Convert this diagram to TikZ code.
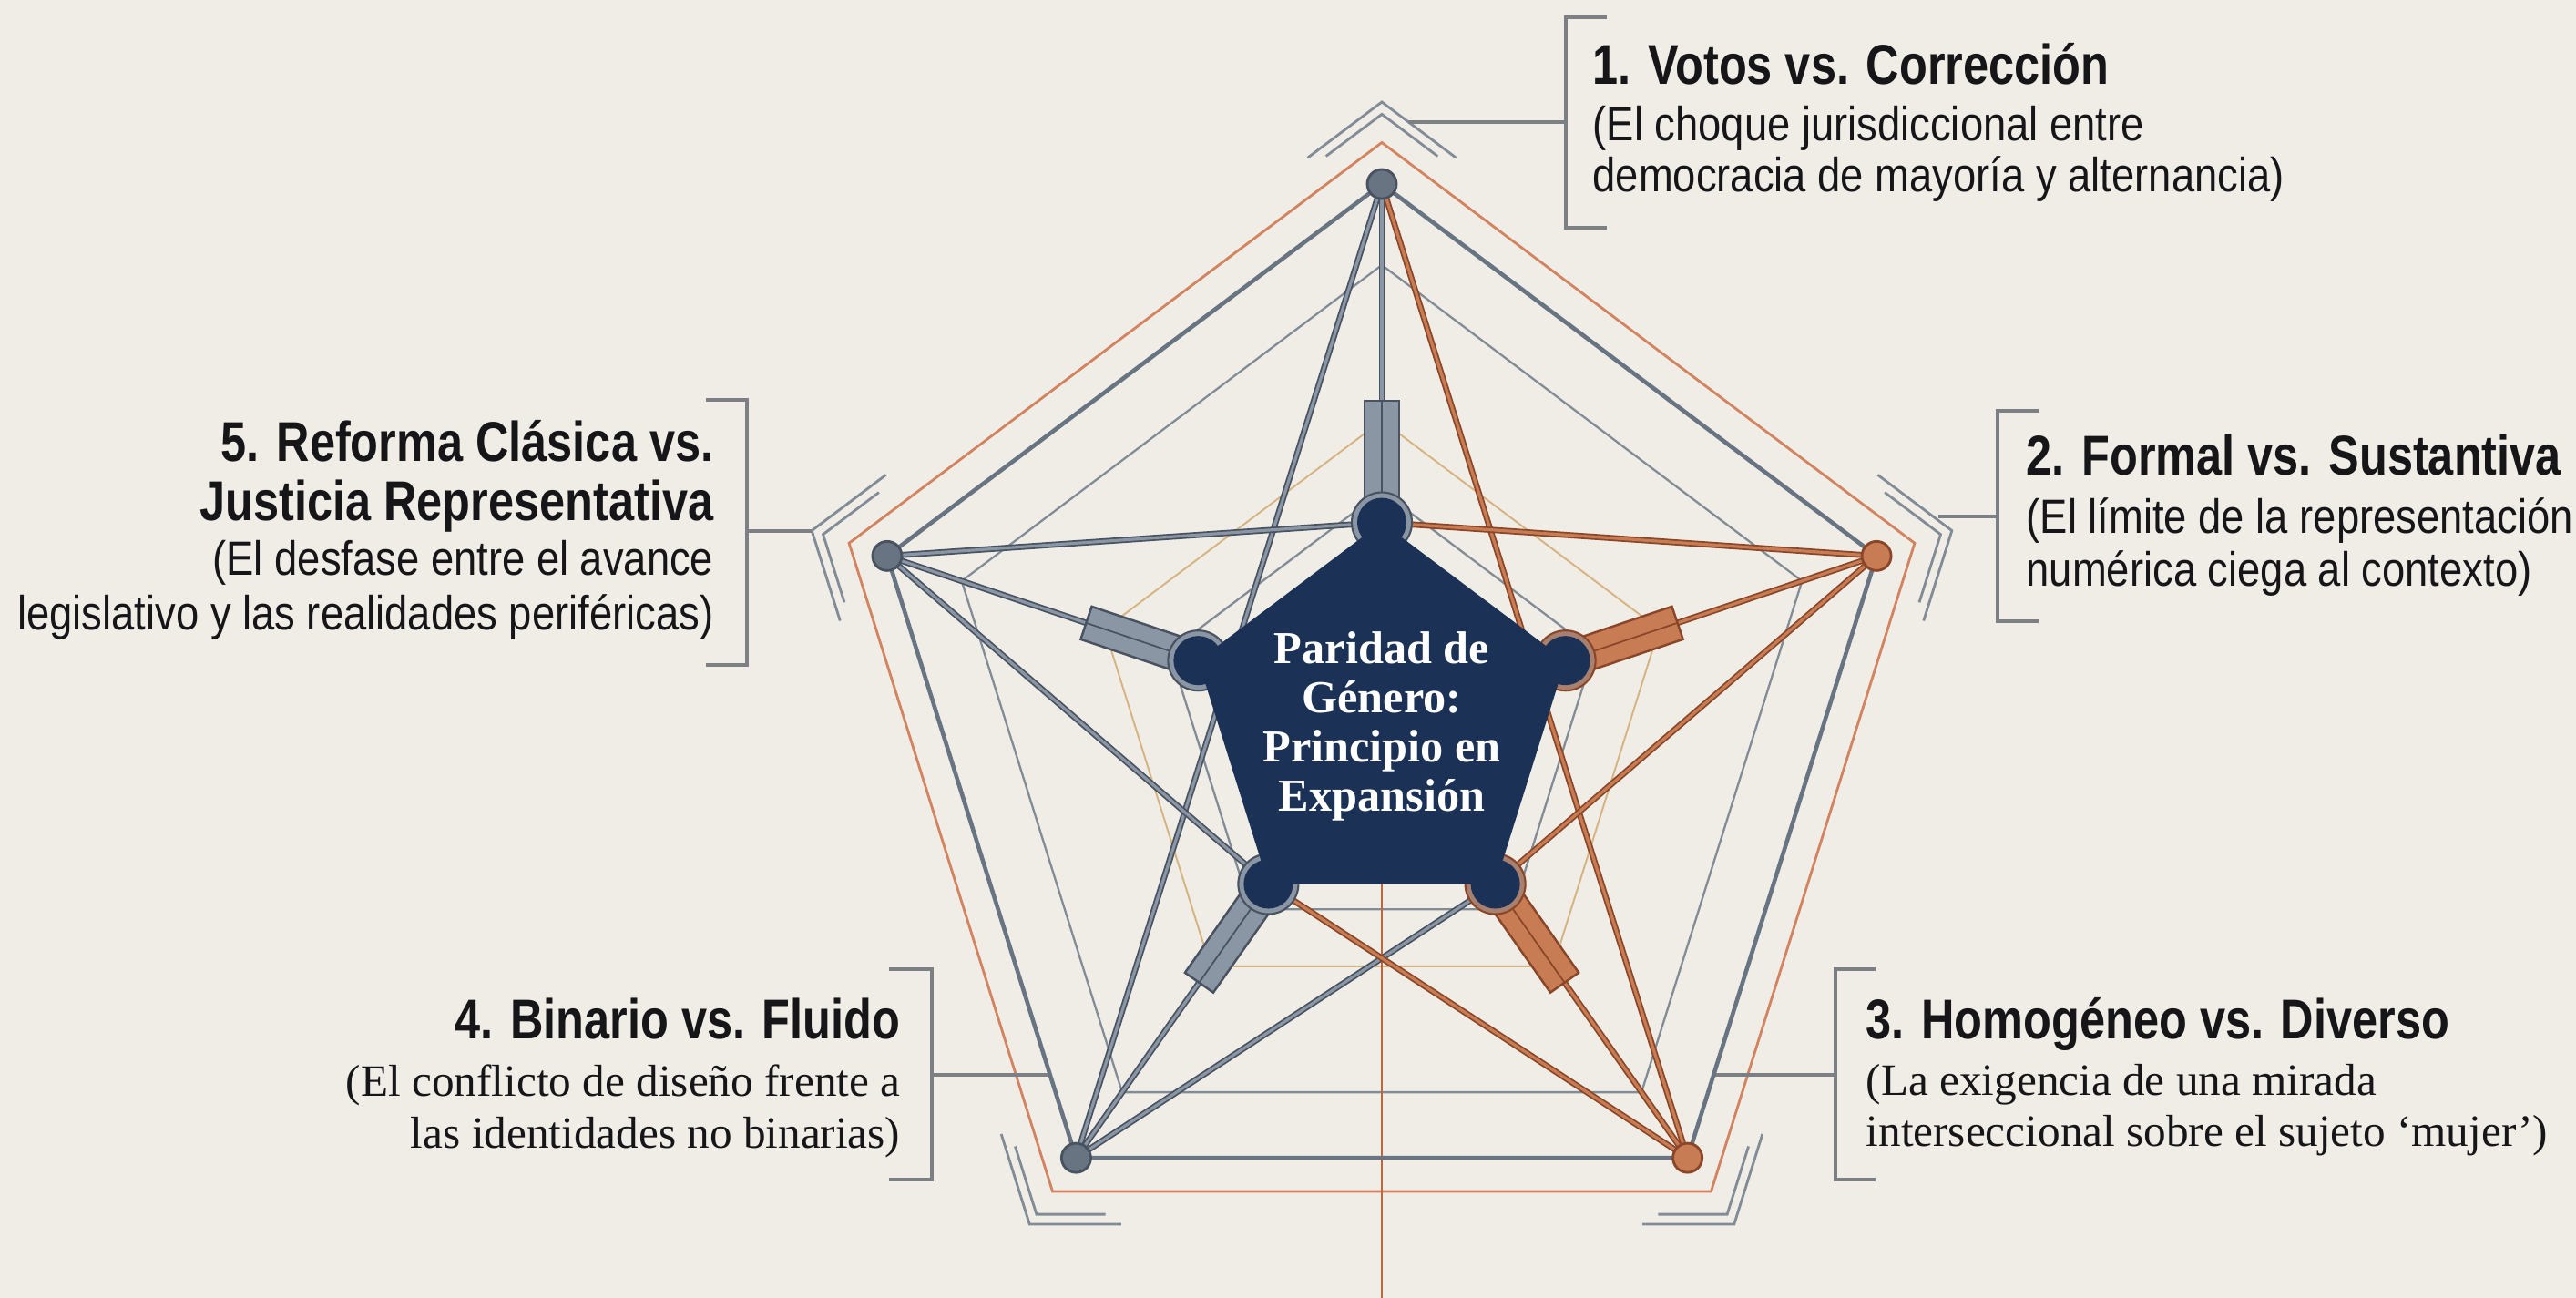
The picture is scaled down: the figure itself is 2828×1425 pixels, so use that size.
\documentclass[tikz,border=0pt]{standalone}
\usepackage{fontspec}
\setmainfont{Liberation Serif}
\newfontfamily\headfont[FakeStretch=0.82]{Liberation Sans}
\newfontfamily\notefont[FakeStretch=0.86]{Liberation Sans}
\usetikzlibrary{calc}

\definecolor{paper}{RGB}{240,237,231}
\definecolor{ink}{RGB}{22,22,24}
\definecolor{navy}{RGB}{27,50,86}
\definecolor{steel}{RGB}{104,116,130}
\definecolor{steeldark}{RGB}{72,82,96}
\definecolor{steellight}{RGB}{138,150,164}
\definecolor{copper}{RGB}{186,104,64}
\definecolor{copperdark}{RGB}{138,70,40}
\definecolor{copperlight}{RGB}{200,124,84}
\definecolor{collarcopper}{RGB}{168,128,112}
\definecolor{rimorange}{RGB}{210,132,96}
\definecolor{tanline}{RGB}{214,180,130}
\definecolor{fine}{RGB}{130,140,150}
\definecolor{linegrey}{RGB}{124,128,133}

\tikzset{
  labhead/.style={inner sep=0pt, text=ink, font=\headfont\bfseries\fontsize{17.5}{19}\selectfont},
  labnote/.style={inner sep=0pt, text=ink, font=\notefont\fontsize{15}{17}\selectfont},
  labserif/.style={inner sep=0pt, text=ink, font=\fontsize{14}{16}\selectfont},
  coretext/.style={inner sep=0pt, text=white, font=\bfseries\fontsize{14.3}{16}\selectfont},
  ringorange/.style={draw=rimorange, line width=0.8pt},
  ringgrey/.style={draw=fine, line width=0.65pt},
  ringtan/.style={draw=tanline, line width=0.55pt},
  chev/.style={draw=fine, line width=0.8pt},
  brack/.style={draw=linegrey, line width=1pt},
  rim/.style={draw=steel, line width=1.3pt, line join=round},
  greyrod/.style={draw=steeldark, double=steellight, double distance=0.9pt, line width=0.5pt},
  copperrod/.style={draw=copperdark, double=copperlight, double distance=0.9pt, line width=0.5pt},
  sleevegrey/.style={fill=steellight, draw=steeldark, line width=0.7pt},
  sleevecopper/.style={fill=copperlight, draw=copperdark, line width=0.7pt},
  dotgrey/.style={fill=steel, draw=steeldark, line width=0.8pt},
  dotcopper/.style={fill=copperlight, draw=copperdark, line width=0.8pt},
  collargrey/.style={fill=steellight, draw=steeldark, line width=0.6pt},
  collarbrown/.style={fill=collarcopper, draw=copperdark, line width=0.6pt},
}

\begin{document}
\begin{tikzpicture}[x=0.01cm, y=-0.01cm]
	%%%%% BACKGROUND %%%%%
	\fill[paper] (0,0) rectangle (2828,1425);
	\useasboundingbox (0,0) rectangle (2828,1425);

	%%%%% PENTAGON FRAME %%%%%
	\begin{scope}[shift={(1517,793)}, yscale=-1.035]
		\foreach \k/\a in {1/90, 2/18, 3/-54, 4/-126, 5/162} {
			\coordinate (o\k) at (\a:571);
			\coordinate (i\k) at (\a:212);
		}
		\draw[ringorange] (90:615) -- (18:615) -- (-54:615) -- (-126:615) -- (162:615) -- cycle;
		\draw[ringgrey] (90:485) -- (18:485) -- (-54:485) -- (-126:485) -- (162:485) -- cycle;
		\draw[ringtan] (90:320) -- (18:320) -- (-54:320) -- (-126:320) -- (162:320) -- cycle;
		\draw[ringgrey] (90:245) -- (18:245) -- (-54:245) -- (-126:245) -- (162:245) -- cycle;
		\foreach \a in {90, 18, -54, -126, 162} {
			\draw[chev] ($(\a:658)!0.13!({\a+72}:658)$) -- (\a:658) -- ($(\a:658)!0.13!({\a-72}:658)$);
			\draw[chev] ($(\a:645)!0.1!({\a+72}:645)$) -- (\a:645) -- ($(\a:645)!0.1!({\a-72}:645)$);
		}
	\end{scope}

	\coordinate (hub) at (1517,793);
	\coordinate (foot) at (1517,1425);
	\draw[draw=copper, line width=0.7pt] (hub) -- (foot);

	%%%%% BRACKETS %%%%%
	\coordinate (c1) at (1546,134);  \coordinate (b1) at (1719,134);
	\coordinate (c2) at (2128,567);  \coordinate (b2) at (2193,567);
	\coordinate (c3) at (1881,1180); \coordinate (b3) at (2015,1180);
	\coordinate (c4) at (1152,1180); \coordinate (b4) at (1023,1180);
	\coordinate (c5) at (891,583);   \coordinate (b5) at (820,583);
	\foreach \k in {1,...,5} \draw[brack] (c\k) -- (b\k);
	\draw[brack] (1764,19) -- (1719,19) -- (1719,250) -- (1764,250);
	\draw[brack] (2238,451) -- (2193,451) -- (2193,682) -- (2238,682);
	\draw[brack] (2059,1064) -- (2015,1064) -- (2015,1295) -- (2059,1295);
	\draw[brack] (976,1064) -- (1023,1064) -- (1023,1295) -- (976,1295);
	\draw[brack] (775,439) -- (820,439) -- (820,730) -- (775,730);

	%%%%% RODS %%%%%
	\draw[rim] (o1) -- (o2) -- (o3) -- (o4) -- (o5) -- cycle;
	\draw[greyrod] (o1) -- (o4);
	\draw[copperrod] (o1) -- (o3);
	\draw[greyrod] (o5) -- (i1);
	\draw[copperrod] (o2) -- (i1);
	\draw[greyrod] (o5) -- (i4);
	\draw[copperrod] (o2) -- (i3);
	\draw[greyrod] (o4) -- (i3);
	\draw[copperrod] (o3) -- (i4);

	\foreach \k in {1,...,5} {
		\coordinate (s\k) at ($(i\k)!0.07!(o\k)$);
		\coordinate (e\k) at ($(i\k)!0.36!(o\k)$);
	}
	\foreach \k in {1,4,5} {
		\draw[greyrod] (i\k) -- (o\k);
		\draw[sleevegrey] ($(s\k)!5.4pt!90:(o\k)$) -- ($(s\k)!5.4pt!-90:(o\k)$) -- ($(e\k)!5.4pt!90:(i\k)$) -- ($(e\k)!5.4pt!-90:(i\k)$) -- cycle;
		\draw[draw=steeldark, line width=0.5pt] (s\k) -- (e\k);
		\filldraw[dotgrey] (o\k) circle[radius=0.16cm];
	}
	\foreach \k in {2,3} {
		\draw[copperrod] (i\k) -- (o\k);
		\draw[sleevecopper] ($(s\k)!5.4pt!90:(o\k)$) -- ($(s\k)!5.4pt!-90:(o\k)$) -- ($(e\k)!5.4pt!90:(i\k)$) -- ($(e\k)!5.4pt!-90:(i\k)$) -- cycle;
		\draw[draw=copperdark, line width=0.5pt] (s\k) -- (e\k);
		\filldraw[dotcopper] (o\k) circle[radius=0.16cm];
	}

	%%%%% HUB %%%%%
	\foreach \k in {1,4,5} \filldraw[collargrey] (i\k) circle[radius=0.33cm];
	\foreach \k in {2,3} \filldraw[collarbrown] (i\k) circle[radius=0.33cm];
	\foreach \k in {1,...,5} \fill[navy] (i\k) circle[radius=0.27cm];
	\fill[navy] (i1) -- (i2) -- (i3) -- (i4) -- (i5) -- cycle;

	\node[coretext, anchor=base] (p1) at (1517,728) {Paridad de};
	\node[coretext, anchor=base] (p2) at (1517,782) {Género:};
	\node[coretext, anchor=base] (p3) at (1517,836) {Principio en};
	\node[coretext, anchor=base] (p4) at (1517,890) {Expansión};

	%%%%% LABELS %%%%%
	\node[labhead, anchor=base west] (h1) at (1748,93) {1. Votos vs. Corrección};
	\node[labnote, anchor=base west] (n1a) at (1748,155) {(El choque jurisdiccional entre};
	\node[labnote, anchor=base west] (n1b) at (1748,211) {democracia de mayoría y alternancia)};

	\node[labhead, anchor=base west] (h2) at (2224,522) {2. Formal vs. Sustantiva};
	\node[labnote, anchor=base west] (n2a) at (2224,586) {(El límite de la representación};
	\node[labnote, anchor=base west] (n2b) at (2224,643) {numérica ciega al contexto)};

	\node[labhead, anchor=base west] (h3) at (2048,1140) {3. Homogéneo vs. Diverso};
	\node[labserif, anchor=base west] (n3a) at (2048,1202) {(La exigencia de una mirada};
	\node[labserif, anchor=base west] (n3b) at (2048,1258) {interseccional sobre el sujeto ‘mujer’)};

	\node[labhead, anchor=base east] (h4) at (989,1140) {4. Binario vs. Fluido};
	\node[labserif, anchor=base east] (n4a) at (989,1203) {(El conflicto de diseño frente a};
	\node[labserif, anchor=base east] (n4b) at (989,1260) {las identidades no binarias)};

	\node[labhead, anchor=base east] (h5a) at (784,507) {5. Reforma Clásica vs.};
	\node[labhead, anchor=base east] (h5b) at (784,572) {Justicia Representativa};
	\node[labnote, anchor=base east] (n5a) at (784,631) {(El desfase entre el avance};
	\node[labnote, anchor=base east] (n5b) at (784,692) {legislativo y las realidades periféricas)};
\end{tikzpicture}
\end{document}
